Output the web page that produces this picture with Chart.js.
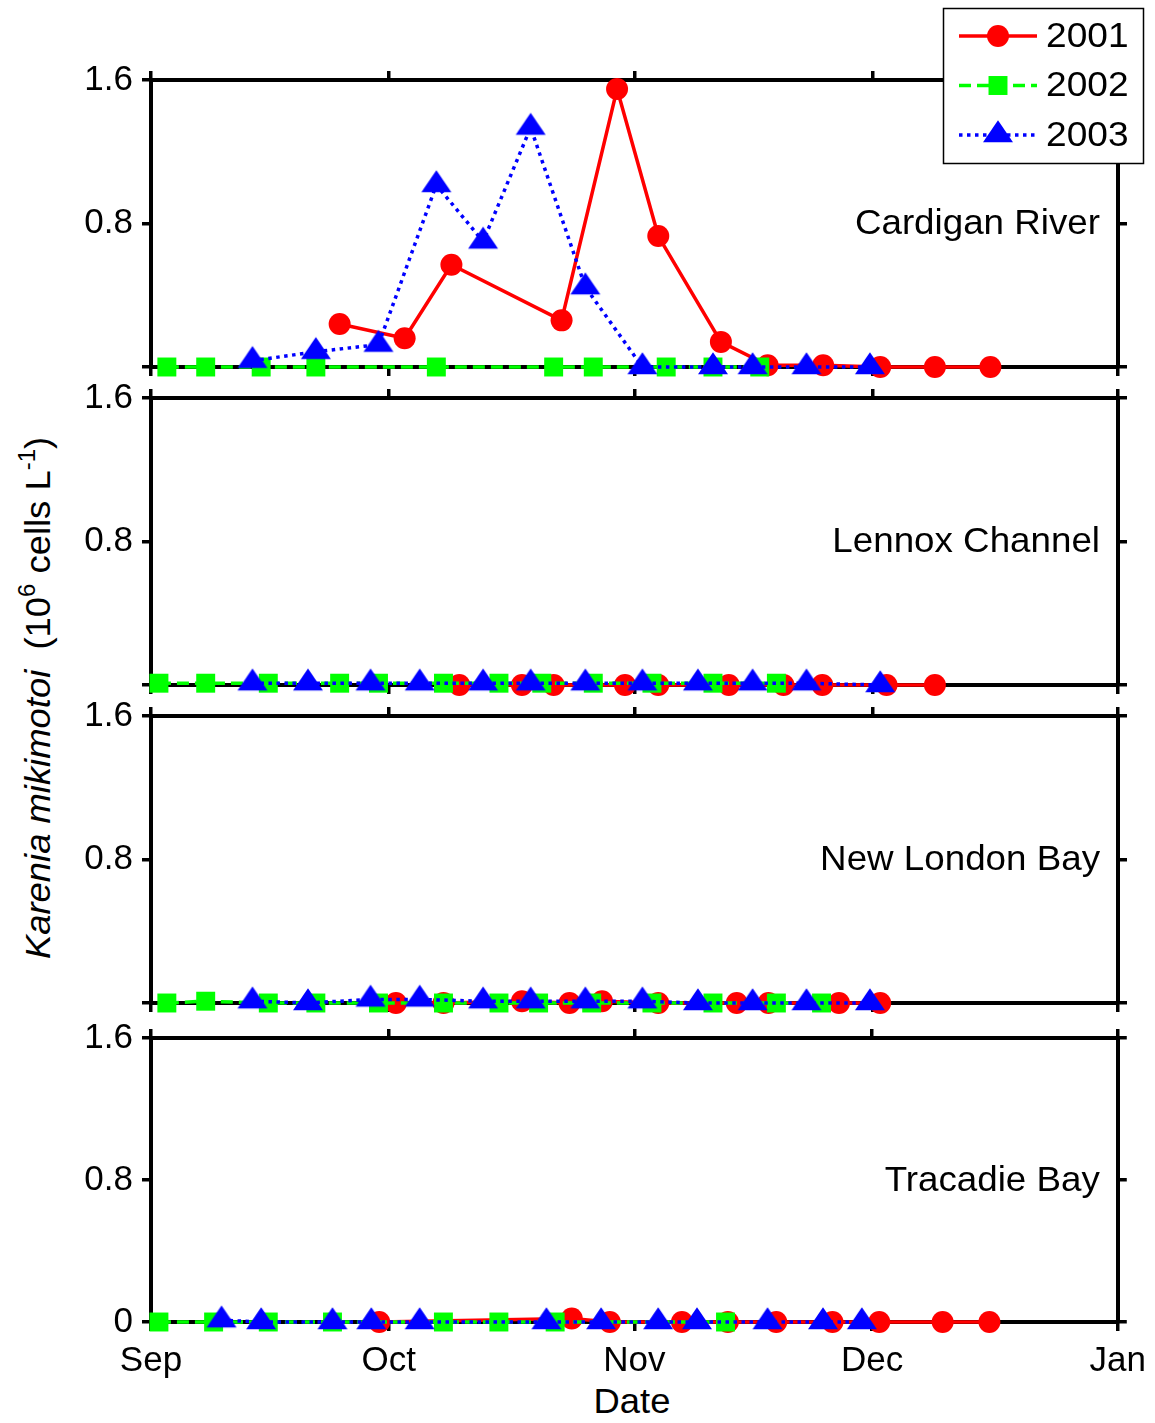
<!DOCTYPE html>
<html>
<head>
<meta charset="utf-8">
<script src="https://cdn.jsdelivr.net/npm/chart.js"></script>
<style>
html,body{margin:0;padding:0;background:#fff;}
body{width:1155px;height:1423px;position:relative;overflow:hidden;font-family:'Liberation Sans',Arial,sans-serif;}
canvas.panel{position:absolute;left:0;}
.lbl{position:absolute;white-space:nowrap;font-size:35px;line-height:1;color:#000;}
.lbl sup{font-size:23px;line-height:0;vertical-align:15px;}
</style>
</head>
<body>
<div id="ytitle" class="lbl" style="left:37px;top:698px;transform:translate(-50%,-50%) rotate(-90deg) scaleX(1.04);"><i>Karenia mikimotoi</i>&nbsp; (10<sup>6</sup> cells L<sup>-1</sup>)</div>
<div id="xtitle" class="lbl" style="left:632px;top:1400px;transform:translate(-50%,-50%) scaleX(1.04);">Date</div>
<script>
// ---------- axis ticks ----------
const monthDays = [0, 30, 61, 91, 122];          // days since 1 Sep
const monthLabels = ['Sep', 'Oct', 'Nov', 'Dec', 'Jan'];
const yTicks = [0, 0.8, 1.6];
const yLabels = ['0', '0.8', '1.6'];
const years = ['2001', '2002', '2003'];
const sites = ['Cardigan River', 'Lennox Channel', 'New London Bay', 'Tracadie Bay'];

// ---------- data (day since 1 Sep, 10^6 cells/L) ----------
const cardigan2001Days = [23.8, 32.0, 37.9, 51.8, 58.8, 64.0, 71.9, 77.8, 84.8, 92.0, 98.9, 105.9];
const cardigan2001Vals = [0.24, 0.16, 0.57, 0.26, 1.55, 0.73, 0.14, 0.01, 0.01, 0, 0, 0];
const cardigan2002Days = [2.0, 6.9, 13.9, 20.8, 36.0, 50.8, 55.8, 65.0, 70.9, 76.8];
const cardigan2002Vals = [0, 0, 0, 0, 0, 0, 0, 0, 0, 0];
const cardigan2003Days = [12.8, 20.8, 28.7, 36.0, 41.9, 47.9, 54.8, 62.0, 70.9, 75.9, 82.7, 90.7];
const cardigan2003Vals = [0.035, 0.085, 0.125, 1.015, 0.70, 1.335, 0.445, 0, 0, 0, 0, 0];

const lennox2001Days = [38.9, 46.8, 50.8, 59.8, 64.0, 72.9, 79.8, 84.7, 92.8, 98.9];
const lennox2001Vals = [0, 0, 0, 0, 0, 0, 0, 0, 0, 0];
const lennox2002Days = [1.0, 6.9, 14.8, 23.8, 28.7, 36.9, 43.9, 49.3, 55.8, 63.2, 70.9, 78.9];
const lennox2002Vals = [0.01, 0.01, 0.01, 0.01, 0.01, 0.01, 0.01, 0.01, 0.01, 0.01, 0.01, 0.01];
const lennox2003Days = [12.8, 19.8, 27.7, 33.9, 41.9, 47.9, 54.8, 62.0, 69.0, 75.9, 82.7, 92.0];
const lennox2003Vals = [0.01, 0.01, 0.01, 0.01, 0.01, 0.01, 0.01, 0.01, 0.01, 0.01, 0.01, 0];

const newLondon2001Days = [30.9, 36.9, 46.8, 52.8, 56.9, 64.0, 73.9, 77.9, 86.8, 92.0];
const newLondon2001Vals = [0, 0, 0.01, 0, 0.01, 0, 0, 0, 0, 0];
const newLondon2002Days = [2.0, 6.9, 14.8, 20.8, 28.7, 36.9, 43.9, 48.9, 55.6, 63.2, 70.9, 78.9, 84.6];
const newLondon2002Vals = [0, 0.01, 0, 0, 0, 0, 0, 0, 0, 0, 0, 0, 0];
const newLondon2003Days = [12.8, 19.8, 27.7, 33.9, 41.9, 47.9, 54.8, 62.0, 69.0, 75.9, 82.7, 90.7];
const newLondon2003Vals = [0.01, 0, 0.02, 0.02, 0.01, 0.01, 0.01, 0.01, 0, 0, 0, 0];

const tracadie2001Days = [28.8, 53.1, 57.9, 67.0, 72.8, 78.9, 86.0, 91.9, 99.9, 105.8];
const tracadie2001Vals = [0, 0.02, 0, 0, 0, 0, 0, 0, 0, 0];
const tracadie2002Days = [1.0, 7.9, 14.8, 22.9, 36.9, 43.9, 51.0, 72.5];
const tracadie2002Vals = [0, 0, 0, 0, 0, 0, 0, 0];
const tracadie2003Days = [8.9, 13.9, 22.9, 27.8, 33.9, 49.9, 56.8, 64.0, 68.9, 77.8, 84.8, 89.7];
const tracadie2003Vals = [0.01, 0, 0, 0, 0, 0, 0, 0, 0, 0, 0, 0];

// ---------- layout ----------
const FONT = "'Liberation Sans', Arial, sans-serif";
const W = 1155;
const panels = [
  {site: sites[0], days: [cardigan2001Days, cardigan2002Days, cardigan2003Days], vals: [cardigan2001Vals, cardigan2002Vals, cardigan2003Vals],
   canvasTop: 0, topH: 80, plotH: 287, bottomH: 40, showX: false, showZero: false, legend: true},
  {site: sites[1], days: [lennox2001Days, lennox2002Days, lennox2003Days], vals: [lennox2001Vals, lennox2002Vals, lennox2003Vals],
   canvasTop: 368, topH: 30, plotH: 287, bottomH: 40, showX: false, showZero: false, legend: false},
  {site: sites[2], days: [newLondon2001Days, newLondon2002Days, newLondon2003Days], vals: [newLondon2001Vals, newLondon2002Vals, newLondon2003Vals],
   canvasTop: 686, topH: 30, plotH: 287, bottomH: 40, showX: false, showZero: false, legend: false},
  {site: sites[3], days: [tracadie2001Days, tracadie2002Days, tracadie2003Days], vals: [tracadie2001Vals, tracadie2002Vals, tracadie2003Vals],
   canvasTop: 1008, topH: 30, plotH: 284, bottomH: 101, showX: true, showZero: true, legend: false}
];

// ---------- markers ----------
function makeTriangle() {
  const c = document.createElement('canvas');
  c.width = 32; c.height = 32;
  const g = c.getContext('2d');
  g.fillStyle = '#0000ff';
  g.beginPath();
  g.moveTo(16, 1.3); g.lineTo(1, 23.3); g.lineTo(31, 23.3);
  g.closePath(); g.fill();
  return c;
}
const triangle = makeTriangle();

const seriesStyle = {
  '2001': {borderColor: '#ff0000', backgroundColor: '#ff0000', borderWidth: 3.5, borderDash: [],
           pointStyle: 'circle', pointRadius: 11, pointBackgroundColor: '#ff0000', pointBorderWidth: 0, order: 3},
  '2002': {borderColor: '#00ff00', backgroundColor: '#00ff00', borderWidth: 3.5, borderDash: [12, 6],
           pointStyle: 'rect', pointRadius: 13.4, pointBackgroundColor: '#00ff00', pointBorderWidth: 0, order: 2},
  '2003': {borderColor: '#0000ff', backgroundColor: '#0000ff', borderWidth: 3.5, borderDash: [3.5, 4.5],
           pointStyle: triangle, pointRadius: 14, pointBackgroundColor: '#0000ff', pointBorderWidth: 0, order: 1}
};

// ---------- plugins ----------
const panelLabelPlugin = {
  id: 'panelLabel',
  afterDraw(chart, args, opts) {
    if (!opts || !opts.text) return;
    const ctx = chart.ctx, area = chart.chartArea;
    const y = chart.scales.y.getPixelForValue(0.8);
    ctx.save();
    ctx.font = '35px ' + FONT;
    ctx.fillStyle = '#000';
    ctx.textAlign = 'right';
    ctx.textBaseline = 'middle';
    ctx.translate(area.right - 18, y + 1);
    ctx.scale(1.05, 1);
    ctx.fillText(opts.text, 0, 0);
    ctx.restore();
  }
};

function drawMarker(ctx, ds, x, y) {
  ctx.fillStyle = ds.pointBackgroundColor;
  const st = ds.pointStyle, r = ds.pointRadius;
  if (st instanceof HTMLCanvasElement) {
    ctx.drawImage(st, x - st.width / 2, y - st.height / 2);
  } else if (st === 'rect') {
    const s = Math.SQRT1_2 * r;
    ctx.fillRect(x - s, y - s, 2 * s, 2 * s);
  } else {
    ctx.beginPath(); ctx.arc(x, y, r, 0, Math.PI * 2); ctx.fill();
  }
}

const legendPlugin = {
  id: 'boxLegend',
  afterDraw(chart, args, o) {
    if (!o || !o.show) return;
    const ctx = chart.ctx;
    ctx.save();
    ctx.fillStyle = '#fff';
    ctx.fillRect(o.left, o.top, o.width, o.height);
    ctx.strokeStyle = '#000';
    ctx.lineWidth = 1.5;
    ctx.strokeRect(o.left + 0.5, o.top + 0.5, o.width, o.height);
    chart.data.datasets.forEach((ds, i) => {
      const y = o.firstRow + i * o.rowStep;
      ctx.save();
      ctx.strokeStyle = ds.borderColor;
      ctx.lineWidth = ds.borderWidth;
      ctx.setLineDash(ds.borderDash || []);
      ctx.beginPath(); ctx.moveTo(o.lineX0, y); ctx.lineTo(o.lineX1, y); ctx.stroke();
      ctx.restore();
      drawMarker(ctx, ds, (o.lineX0 + o.lineX1) / 2, y);
      ctx.save();
      ctx.fillStyle = '#000';
      ctx.font = '35px ' + FONT;
      ctx.textAlign = 'left';
      ctx.textBaseline = 'middle';
      ctx.translate(o.textX, y + 1);
      ctx.scale(1.06, 1);
      ctx.fillText(ds.label, 0, 0);
      ctx.restore();
    });
    ctx.restore();
  }
};

// ---------- charts ----------
function makeScales(p) {
  const grid = {display: true, drawOnChartArea: false, drawTicks: true, tickLength: 9, lineWidth: 3.5, color: '#000'};
  const border = {display: true, width: 4, color: '#000'};
  const xTicks = s => { s.ticks = monthDays.map(v => ({value: v})); };
  const yT = s => { s.ticks = yTicks.map(v => ({value: v})); };
  return {
    x: {type: 'linear', axis: 'x', position: 'bottom', min: 0, max: 122, grid, border,
        afterBuildTicks: xTicks,
        ticks: {display: p.showX, autoSkip: false, maxRotation: 0, padding: 9, color: '#000',
                font: {family: FONT, size: 35},
                callback: v => { const i = monthDays.indexOf(v); return i >= 0 ? monthLabels[i] : ''; }},
        afterFit: s => { s.height = p.bottomH; }},
    x2: {type: 'linear', axis: 'x', position: 'top', min: 0, max: 122, grid, border,
         afterBuildTicks: xTicks, ticks: {display: false},
         afterFit: s => { s.height = p.topH; }},
    y: {type: 'linear', axis: 'y', position: 'left', min: 0, max: 1.6, grid, border,
        afterBuildTicks: yT,
        ticks: {display: true, padding: 9, color: '#000', font: {family: FONT, size: 35},
                callback: v => { if (v === 0 && !p.showZero) return ''; const i = yTicks.indexOf(v); return i >= 0 ? yLabels[i] : ''; }},
        afterFit: s => { s.width = 151; }},
    y2: {type: 'linear', axis: 'y', position: 'right', min: 0, max: 1.6, grid, border,
         afterBuildTicks: yT, ticks: {display: false},
         afterFit: s => { s.width = W - 1118; }}
  };
}

panels.forEach(p => {
  const cv = document.createElement('canvas');
  cv.className = 'panel';
  cv.width = W;
  cv.height = p.topH + p.plotH + p.bottomH;
  cv.style.top = p.canvasTop + 'px';
  document.body.appendChild(cv);
  const datasets = years.map((yr, k) => Object.assign({
    label: yr,
    data: p.days[k].map((d, i) => ({x: d, y: p.vals[k][i]})),
    clip: false, tension: 0, fill: false, pointHoverRadius: 0
  }, seriesStyle[yr]));
  new Chart(cv, {
    type: 'line',
    data: {datasets},
    options: {
      responsive: false, animation: false, devicePixelRatio: 1, events: [],
      layout: {padding: 0},
      plugins: {
        legend: {display: false}, tooltip: {enabled: false},
        panelLabel: {text: p.site},
        boxLegend: {show: p.legend, left: 943, top: 8, width: 200, height: 155,
                    firstRow: 36, rowStep: 49.5, lineX0: 959, lineX1: 1037, textX: 1046}
      },
      scales: makeScales(p)
    },
    plugins: [panelLabelPlugin, legendPlugin]
  });
});
</script>
</body>
</html>
